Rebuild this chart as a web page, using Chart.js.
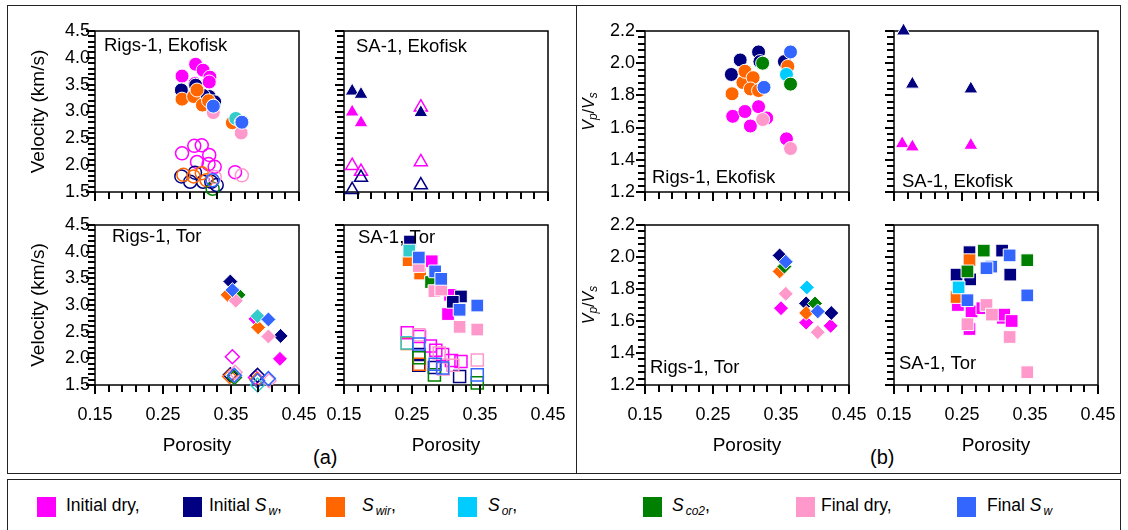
<!DOCTYPE html>
<html>
<head>
<meta charset="utf-8">
<script src="https://cdn.jsdelivr.net/npm/chart.js@4.4.0/dist/chart.umd.min.js"></script>
<style>
  body { margin: 0; width: 1128px; height: 530px; position: relative; overflow: hidden; background: #fff;
         font-family: "Liberation Sans", Arial, sans-serif; color: #000; }
  canvas { position: absolute; }
  .box { position: absolute; border: 1.5px solid #222; box-sizing: border-box; }
  .tag { position: absolute; font-size: 20px; line-height: 20px; }
  .sw { position: absolute; top: 497px; width: 19px; height: 20px; }
  .lt { position: absolute; top: 495px; font-size: 17.5px; line-height: 20px; white-space: nowrap; }
  .lt sub { font-size: 12px; vertical-align: -4px; font-style: italic; margin-left: 2px; }
</style>
</head>
<body>
<div class="box" style="left:7px;top:5px;width:570px;height:469px"></div>
<div class="box" style="left:576px;top:5px;width:545px;height:469px"></div>
<div class="box" style="left:7px;top:479px;width:1114px;height:60px"></div>
<div class="tag" style="left:313px;top:447px">(a)</div>
<div class="tag" style="left:870px;top:447px">(b)</div>
<script>
// saturation stages, in legend order (later ones are drawn on top)
const stages = ['Initial dry', 'Initial Sw', 'Swir', 'Sor', 'Sco2', 'Final dry', 'Final Sw'];
const stageColors = ['#ff00ff', '#000080', '#ff6600', '#00ccff', '#008000', '#ff99cc', '#3366ff'];
const sorTeal = '#33cccc';
const legendText = ['Initial dry,', 'Initial <i>S</i><sub>w</sub>,', '<i>S</i><sub>wir</sub>,', '<i>S</i><sub>or</sub>,',
                    '<i>S</i><sub>co2</sub>,', 'Final dry,', 'Final <i>S</i><sub>w</sub>'];

const porosityTicks = [0.15, 0.25, 0.35, 0.45];
const velocityTicks = [1.5, 2.0, 2.5, 3.0, 3.5, 4.0, 4.5];
const ratioTicks = [1.2, 1.4, 1.6, 1.8, 2.0, 2.2];

// [porosity, value] per stage; Vp = filled marker, Vs = open marker
const rigsEkoVp = [
  [[0.278, 3.66], [0.298, 3.88], [0.309, 3.77], [0.319, 3.64], [0.318, 3.55], [0.297, 3.52]],
  [[0.277, 3.40], [0.298, 3.49], [0.318, 3.28], [0.326, 3.18], [0.309, 3.30]],
  [[0.278, 3.23], [0.295, 3.28], [0.300, 3.40], [0.308, 3.12], [0.317, 3.20], [0.352, 2.79]],
  [[0.357, 2.87]],
  [[0.324, 3.10], [0.365, 2.80]],
  [[0.324, 2.98], [0.365, 2.60]],
  [[0.324, 3.10], [0.366, 2.80]]
];
const rigsEkoVs = [
  [[0.278, 2.22], [0.296, 2.36], [0.307, 2.37], [0.318, 2.19], [0.300, 2.06], [0.317, 2.02], [0.326, 1.97], [0.356, 1.87]],
  [[0.277, 1.79], [0.290, 1.69], [0.297, 1.86], [0.309, 1.69], [0.321, 1.69], [0.329, 1.63]],
  [[0.280, 1.82], [0.295, 1.79], [0.307, 1.85], [0.314, 1.72]],
  [],
  [[0.323, 1.56]],
  [[0.366, 1.81], [0.326, 1.78]],
  [[0.323, 1.72]]
];
const sa1EkoVp = [
  [[0.162, 2.99], [0.175, 2.79]],
  [[0.162, 3.38], [0.175, 3.32], [0.263, 2.98]],
  [], [], [], [], []
];
const sa1EkoVs = [
  [[0.162, 1.99], [0.175, 1.88], [0.263, 2.06], [0.263, 3.08]],
  [[0.175, 1.77], [0.162, 1.54], [0.263, 1.63]],
  [], [], [], [], []
];
const rigsTorVp = [
  [[0.422, 1.99], [0.386, 2.74]],
  [[0.349, 3.44], [0.423, 2.42]],
  [[0.345, 3.19], [0.390, 2.58]],
  [[0.389, 2.79]],
  [[0.361, 3.19]],
  [[0.357, 3.08], [0.405, 2.41]],
  [[0.352, 3.28], [0.405, 2.73]]
];
const rigsTorVs = [
  [[0.352, 2.03], [0.386, 1.64]],
  [[0.349, 1.69], [0.389, 1.68]],
  [[0.348, 1.66], [0.388, 1.60]],
  [[0.389, 1.50]],
  [[0.355, 1.64]],
  [[0.356, 1.74], [0.406, 1.58]],
  [[0.355, 1.68], [0.389, 1.58], [0.405, 1.62]]
];
const sa1TorVp = [
  [[0.279, 3.82], [0.306, 3.19], [0.303, 2.83]],
  [[0.247, 4.19], [0.322, 3.16], [0.310, 3.06]],
  [[0.245, 3.84], [0.262, 3.59]],
  [[0.246, 4.02]],
  [[0.278, 3.43]],
  [[0.260, 3.73], [0.283, 3.26], [0.293, 3.29], [0.320, 2.59], [0.346, 2.54]],
  [[0.260, 3.89], [0.284, 3.63], [0.293, 3.49], [0.320, 2.91], [0.346, 2.99]]
];
const sa1TorVs = [
  [[0.243, 2.48], [0.261, 2.41], [0.277, 2.23], [0.285, 2.15], [0.295, 2.07], [0.308, 1.96], [0.322, 1.94]],
  [[0.260, 2.07], [0.260, 1.87], [0.283, 1.83], [0.320, 1.66]],
  [[0.243, 2.28], [0.261, 1.89]],
  [[0.243, 2.29]],
  [[0.260, 2.01], [0.283, 1.69], [0.346, 1.54]],
  [[0.260, 2.44], [0.290, 2.10], [0.296, 1.80], [0.310, 1.87], [0.346, 1.97]],
  [[0.260, 2.27], [0.284, 1.89], [0.295, 1.82], [0.346, 1.69]]
];
// Vp/Vs ratios
const rigsEkoRatio = [
  [[0.279, 1.67], [0.297, 1.70], [0.305, 1.61], [0.317, 1.73], [0.329, 1.66], [0.358, 1.53]],
  [[0.277, 1.93], [0.290, 2.02], [0.317, 2.07], [0.319, 2.01], [0.355, 2.01]],
  [[0.278, 1.81], [0.294, 1.88], [0.297, 1.95], [0.309, 1.91], [0.305, 1.84], [0.317, 1.83], [0.360, 1.98]],
  [[0.358, 1.93]],
  [[0.323, 2.00], [0.364, 1.87]],
  [[0.323, 1.65], [0.364, 1.47]],
  [[0.325, 1.85], [0.364, 2.07]]
];
const sa1EkoRatio = [
  [[0.162, 1.50], [0.177, 1.48], [0.263, 1.49]],
  [[0.164, 2.20], [0.177, 1.87], [0.263, 1.84]],
  [], [], [], [], []
];
const rigsTorRatio = [
  [[0.350, 1.68], [0.387, 1.59], [0.423, 1.57]],
  [[0.348, 2.01], [0.387, 1.71], [0.424, 1.65]],
  [[0.348, 1.91], [0.387, 1.65]],
  [[0.388, 1.81]],
  [[0.355, 1.94], [0.400, 1.71]],
  [[0.357, 1.77], [0.404, 1.53]],
  [[0.357, 1.97], [0.404, 1.66]]
];
const sa1TorRatio = [
  [[0.244, 1.70], [0.264, 1.66], [0.261, 1.55], [0.310, 1.62], [0.312, 1.64], [0.323, 1.60], [0.280, 1.68]],
  [[0.261, 2.03], [0.309, 2.04], [0.321, 1.89], [0.242, 1.89], [0.262, 1.86]],
  [[0.261, 1.98], [0.242, 1.75]],
  [[0.245, 1.81]],
  [[0.282, 2.04], [0.258, 1.91], [0.346, 1.98]],
  [[0.258, 1.58], [0.286, 1.70], [0.294, 1.64], [0.320, 1.50], [0.346, 1.28]],
  [[0.320, 2.01], [0.293, 1.94], [0.286, 1.93], [0.258, 1.73], [0.346, 1.76]]
];

const FONT = "'Liberation Sans', Arial, sans-serif";
Chart.defaults.font.family = FONT;

// margins round each plot box inside its canvas
const ML = 92, MR = 26, MT = 14, MB = 80;
const TICK = 7;

const panels = [
  { left: 95,  top: 31,  h: 161, kind: 'vel',   yLab: true,  xLab: false, shape: 'circle',   r: 7,   vp: rigsEkoVp,    vs: rigsEkoVs, text: 'Rigs-1, Ekofisk', lx: 9,  ly: 20 },
  { left: 344, top: 31,  h: 161, kind: 'vel',   yLab: false, xLab: false, shape: 'triangle', r: 8,   vp: sa1EkoVp,     vs: sa1EkoVs,  text: 'SA-1, Ekofisk',   lx: 12, ly: 21 },
  { left: 95,  top: 225, h: 160, kind: 'vel',   yLab: true,  xLab: true,  shape: 'rectRot',  r: 7.5, vp: rigsTorVp,    vs: rigsTorVs, text: 'Rigs-1, Tor',     lx: 17, ly: 17 },
  { left: 344, top: 225, h: 160, kind: 'vel',   yLab: false, xLab: true,  shape: 'rect',     r: 9,   vp: sa1TorVp,     vs: sa1TorVs,  text: 'SA-1, Tor',       lx: 14, ly: 18 },
  { left: 645, top: 31,  h: 161, kind: 'ratio', yLab: true,  xLab: false, shape: 'circle',   r: 7,   vp: rigsEkoRatio, vs: null,      text: 'Rigs-1, Ekofisk', lx: 7,  ly: 152 },
  { left: 894, top: 31,  h: 161, kind: 'ratio', yLab: false, xLab: false, shape: 'triangle', r: 8,   vp: sa1EkoRatio,  vs: null,      text: 'SA-1, Ekofisk',   lx: 8,  ly: 156 },
  { left: 645, top: 225, h: 160, kind: 'ratio', yLab: true,  xLab: true,  shape: 'rectRot',  r: 7.5, vp: rigsTorRatio, vs: null,      text: 'Rigs-1, Tor',     lx: 5,  ly: 148 },
  { left: 894, top: 225, h: 160, kind: 'ratio', yLab: false, xLab: true,  shape: 'rect',     r: 9,   vp: sa1TorRatio,  vs: null,      text: 'SA-1, Tor',       lx: 5,  ly: 144 }
];
const PW = 204;

function steps(from, to, step) {
  const out = [];
  const n = Math.round((to - from) / step);
  for (let i = 0; i <= n; i++) out.push(+(from + i * step).toFixed(4));
  return out;
}
const isLabel = (v, list) => list.some(t => Math.abs(t - v) < 1e-6);

// minor tick positions on each axis
const xMinor = steps(0.15, 0.45, 0.02);
const velMinor = steps(1.5, 4.5, 0.1);
const ratioMinor = steps(1.2, 2.2, 0.04);

function buildDatasets(p) {
  const sets = [];
  let order = 0;
  stages.forEach((name, i) => {
    const color = (i === 3 && p.kind === 'vel') ? sorTeal : stageColors[i];
    if (p.vp[i].length) {
      sets.push({
        label: name, data: p.vp[i].map(d => ({ x: d[0], y: d[1] })),
        pointStyle: p.shape, pointRadius: p.r, backgroundColor: color, borderColor: '#fff',
        pointBorderWidth: 1, clip: false, order: order--
      });
    }
    if (p.vs && p.vs[i].length) {
      sets.push({
        label: name + ' Vs', data: p.vs[i].map(d => ({ x: d[0], y: d[1] })),
        pointStyle: p.shape, pointRadius: p.r - 0.5, backgroundColor: 'rgba(0,0,0,0)', borderColor: color,
        pointBorderWidth: 1.5, clip: false, order: order--
      });
    }
  });
  return sets;
}

// plot frame, outward tick marks, panel caption and axis titles
const deco = {
  id: 'deco',
  beforeDatasetsDraw(chart) {
    const { ctx, chartArea: a } = chart;
    ctx.save();
    ctx.strokeStyle = '#000';
    ctx.lineWidth = 1.5;
    ctx.strokeRect(a.left, a.top, a.right - a.left, a.bottom - a.top);
    ctx.restore();
  },
  afterDraw(chart, args, o) {
    const { ctx, chartArea: a, scales } = chart;
    const yLabels = o.vel ? velocityTicks : ratioTicks;
    ctx.save();
    ctx.fillStyle = '#000';
    xMinor.forEach(v => {
      const px = Math.round(scales.x.getPixelForValue(v));
      const len = isLabel(v, porosityTicks) ? TICK + 2 : TICK;
      ctx.fillRect(px - 1, Math.round(a.bottom), 2, len);
    });
    (o.vel ? velMinor : ratioMinor).forEach(v => {
      const py = Math.round(scales.y.getPixelForValue(v));
      const len = isLabel(v, yLabels) ? TICK + 2 : TICK;
      ctx.fillRect(Math.round(a.left) - len, py - 1, len, 2);
    });

    ctx.textBaseline = 'alphabetic';
    ctx.font = '18.5px ' + FONT;
    ctx.fillText(o.text, a.left + o.lx, a.top + o.ly);
    if (o.xTitle) {
      ctx.font = '19px ' + FONT;
      ctx.textAlign = 'center';
      ctx.fillText('Porosity', (a.left + a.right) / 2, a.bottom + 66);
    }
    if (o.yTitle === 'vel') {
      ctx.translate(a.left - 58, (a.top + a.bottom) / 2);
      ctx.rotate(-Math.PI / 2);
      ctx.font = '19px ' + FONT;
      ctx.textAlign = 'center';
      ctx.fillText('Velocity (km/s)', 0, 7);
    } else if (o.yTitle === 'ratio') {
      ctx.translate(a.left - 57, (a.top + a.bottom) / 2);
      ctx.rotate(-Math.PI / 2);
      const parts = [['V', 'italic 16px', 0], ['p', 'italic 12px', 3], ['/', '16px', 0], ['V', 'italic 16px', 0], ['s', 'italic 12px', 3]];
      let total = 0;
      parts.forEach(t => { ctx.font = t[1] + ' ' + FONT; total += ctx.measureText(t[0]).width; });
      let x = -total / 2;
      ctx.textAlign = 'left';
      parts.forEach(t => {
        ctx.font = t[1] + ' ' + FONT;
        ctx.fillText(t[0], x, 6 + t[2]);
        x += ctx.measureText(t[0]).width;
      });
    }
    ctx.restore();
  }
};

panels.forEach(p => {
  const W = PW + ML + MR, H = p.h + MT + MB;
  const cv = document.createElement('canvas');
  cv.width = W; cv.height = H;
  cv.style.left = (p.left - ML) + 'px';
  cv.style.top = (p.top - MT) + 'px';
  cv.style.width = W + 'px';
  cv.style.height = H + 'px';
  document.body.appendChild(cv);

  const vel = p.kind === 'vel';
  const yMin = vel ? 1.5 : 1.2, yMax = vel ? 4.5 : 2.2;
  const yLabels = vel ? velocityTicks : ratioTicks;
  const yMinor = vel ? velMinor : ratioMinor;

  new Chart(cv.getContext('2d'), {
    type: 'scatter',
    data: { datasets: buildDatasets(p) },
    options: {
      responsive: false,
      devicePixelRatio: 1,
      animation: false,
      events: [],
      layout: { padding: { left: 0, top: MT, right: MR, bottom: 0 } },
      plugins: {
        legend: { display: false },
        tooltip: { enabled: false },
        deco: { text: p.text, lx: p.lx, ly: p.ly, vel: vel, xTitle: p.xLab, yTitle: p.yLab ? p.kind : null }
      },
      scales: {
        x: {
          type: 'linear', min: 0.15, max: 0.45,
          afterBuildTicks: s => { s.ticks = xMinor.map(v => ({ value: v })); },
          afterFit: s => { s.height = MB; s.paddingLeft = 0; s.paddingRight = 0; },
          grid: { display: false, drawTicks: false },
          border: { display: false },
          ticks: {
            autoSkip: false, maxRotation: 0, padding: 19, color: '#000', font: { size: 18 },
            callback: v => (p.xLab && isLabel(v, porosityTicks)) ? v.toFixed(2) : ''
          }
        },
        y: {
          type: 'linear', min: yMin, max: yMax,
          afterBuildTicks: s => { s.ticks = yMinor.map(v => ({ value: v })); },
          afterFit: s => { s.width = ML; s.paddingTop = 0; s.paddingBottom = 0; },
          grid: { display: false, drawTicks: false },
          border: { display: false },
          ticks: {
            autoSkip: false, padding: vel ? 5 : 10, color: '#000', font: { size: 18 },
            callback: v => (p.yLab && isLabel(v, yLabels)) ? v.toFixed(1) : ''
          }
        }
      }
    },
    plugins: [deco]
  });
});

// legend row
const swatchX = [37, 183, 326, 458, 643, 796, 957];
const textX = [66, 209, 362, 488, 672, 821, 987];
stages.forEach((s, i) => {
  const sw = document.createElement('div');
  sw.className = 'sw';
  sw.style.left = swatchX[i] + 'px';
  sw.style.background = stageColors[i];
  document.body.appendChild(sw);
  const lt = document.createElement('div');
  lt.className = 'lt';
  lt.style.left = textX[i] + 'px';
  lt.innerHTML = legendText[i];
  document.body.appendChild(lt);
});
</script>
</body>
</html>
